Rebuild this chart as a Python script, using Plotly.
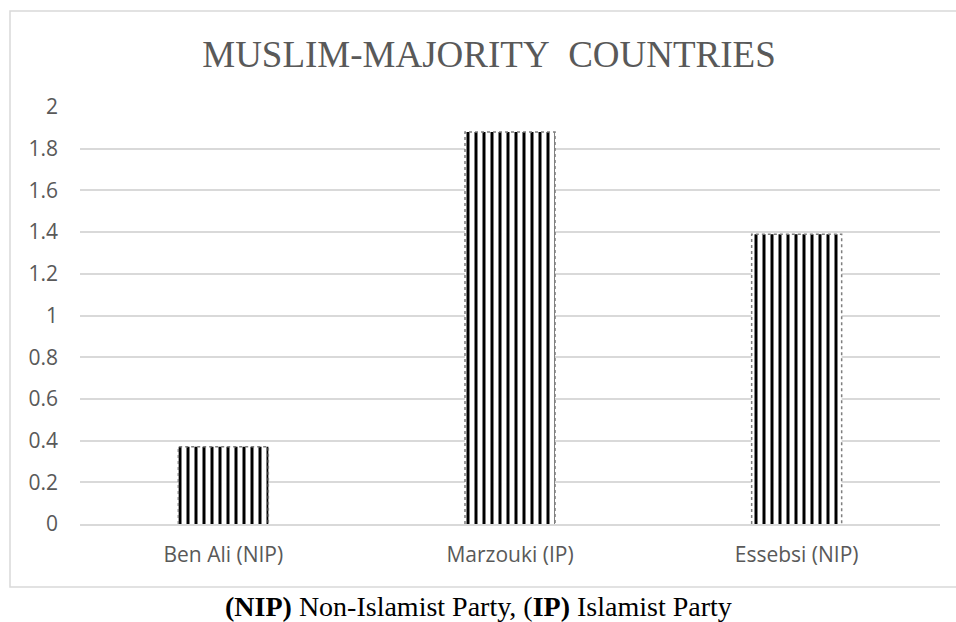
import plotly.graph_objects as go

# Data
candidates = ["Ben Ali (NIP)", "Marzouki (IP)", "Essebsi (NIP)"]
scores = [0.37, 1.88, 1.39]
y_ticks = [0, 0.2, 0.4, 0.6, 0.8, 1, 1.2, 1.4, 1.6, 1.8, 2]
y_tick_labels = ["0", "0.2", "0.4", "0.6", "0.8", "1", "1.2", "1.4", "1.6", "1.8", "2"]

BAR_WIDTH = 0.314
positions = list(range(len(candidates)))

fig = go.Figure()

# Hatched bars (vertical stripes)
fig.add_trace(go.Bar(
    x=positions,
    y=scores,
    width=BAR_WIDTH,
    marker=dict(
        color="white",
        line=dict(width=0),
        pattern=dict(shape="|", fgcolor="#000000", bgcolor="#ffffff",
                     fgopacity=1, size=8, solidity=0.375,
                     fillmode="replace"),
    ),
    hoverinfo="skip",
    showlegend=False,
))

# Dotted outline around each bar, derived from the bar values
for xi, val in zip(positions, scores):
    x0, x1 = xi - BAR_WIDTH / 2, xi + BAR_WIDTH / 2
    fig.add_trace(go.Scatter(
        x=[x0, x0, x1, x1],
        y=[0, val, val, 0],
        mode="lines",
        line=dict(color="#7f7f7f", width=1.5, dash="dot"),
        hoverinfo="skip",
        showlegend=False,
    ))

# Plot area bounds in pixels (for the outer chart frame)
W, H = 956, 622
ML, MR, MT, MB = 80, 16, 107, 98
pw, ph = W - ML - MR, H - MT - MB

def px_x(px):
    return (px - ML) / pw

def px_y(py):
    return (H - MB - py) / ph

fig.update_layout(
    width=W,
    height=H,
    margin=dict(l=ML, r=MR, t=MT, b=MB),
    paper_bgcolor="white",
    plot_bgcolor="white",
    title=dict(
        text="MUSLIM-MAJORITY\u00a0\u00a0COUNTRIES",
        font=dict(family="Liberation Serif", size=37, color="#595959"),
        x=489 / W,
        xanchor="center",
        xref="container",
        y=1 - 54 / H,
        yanchor="middle",
        yref="container",
    ),
    xaxis=dict(
        range=[-0.5, 2.5],
        tickmode="array",
        tickvals=positions,
        ticktext=candidates,
        showgrid=False,
        zeroline=False,
        showline=True,
        linecolor="#d9d9d9",
        linewidth=1.5,
        ticks="",
        tickfont=dict(family="Open Sans", size=21, color="#595959"),
        ticklabelstandoff=11,
        fixedrange=True,
    ),
    yaxis=dict(
        range=[0, 2],
        tickmode="array",
        tickvals=y_ticks,
        ticktext=y_tick_labels,
        showgrid=True,
        gridcolor="#d9d9d9",
        gridwidth=1.5,
        zeroline=False,
        showline=False,
        ticks="",
        tickfont=dict(family="Open Sans", size=21, color="#595959"),
        ticklabelstandoff=21,
        fixedrange=True,
    ),
    shapes=[
        dict(
            type="rect", xref="paper", yref="paper",
            x0=px_x(10), x1=px_x(970), y0=px_y(587), y1=px_y(11),
            line=dict(color="#d9d9d9", width=1.5),
            fillcolor="rgba(0,0,0,0)",
            layer="below",
        )
    ],
    annotations=[
        dict(
            text="<b>(NIP)</b> Non-Islamist Party, (<b>IP)</b> Islamist Party",
            xref="paper", yref="paper",
            x=px_x(478), y=px_y(606),
            xanchor="center", yanchor="middle",
            showarrow=False,
            font=dict(family="Liberation Serif", size=28, color="black"),
        )
    ],
)

fig.write_html("out.html")
